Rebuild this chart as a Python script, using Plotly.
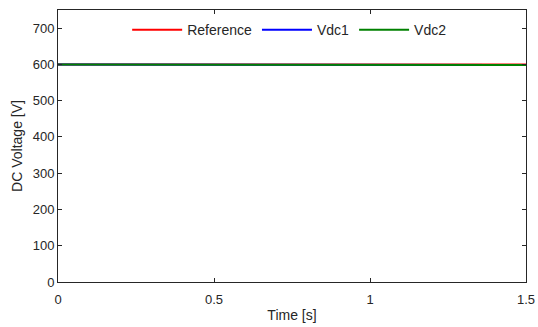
import plotly.graph_objects as go

time = [0.0, 0.6, 0.6, 1.0, 1.0, 1.5]
reference = [600, 600, 600, 600, 600, 600]
vdc1 = [600, 600, 599.5, 599.5, 598.5, 598.5]
vdc2 = [600, 600, 599.5, 599.5, 598.5, 598.5]

fig = go.Figure()
fig.add_trace(go.Scatter(x=time, y=reference, mode="lines", name="Reference",
                         line=dict(color="#ff0000", width=2)))
fig.add_trace(go.Scatter(x=time, y=vdc1, mode="lines", name="Vdc1",
                         line=dict(color="#0000ff", width=2)))
fig.add_trace(go.Scatter(x=time, y=vdc2, mode="lines", name="Vdc2",
                         line=dict(color="#008000", width=2)))

axis_common = dict(showline=True, linecolor="#262626", linewidth=1, mirror="ticks",
                   ticks="inside", ticklen=4, tickcolor="#262626", showgrid=False,
                   zeroline=False, automargin=False,
                   tickfont=dict(size=13, color="#262626"))
fig.update_layout(
    width=538, height=327,
    margin=dict(l=58, r=12, t=10, b=45),
    paper_bgcolor="white", plot_bgcolor="white",
    font=dict(family="Liberation Sans, Arial, sans-serif", size=14, color="#262626"),
    xaxis=dict(range=[0, 1.5], tickvals=[0, 0.5, 1, 1.5], ticktext=["0", "0.5", "1", "1.5"],
               ticklabelstandoff=5,
               title=dict(text="Time [s]", standoff=4, font=dict(size=14)), **axis_common),
    yaxis=dict(range=[0, 750], tickvals=[0, 100, 200, 300, 400, 500, 600, 700],
               title=dict(text="DC Voltage [V]", standoff=6, font=dict(size=14)), **axis_common),
    legend=dict(orientation="h", x=0.495, xanchor="center", y=0.985, yanchor="top",
                bgcolor="rgba(255,255,255,1)", font=dict(size=14), tracegroupgap=0,
                itemwidth=50),
    showlegend=True,
)
fig.write_html("out.html")
